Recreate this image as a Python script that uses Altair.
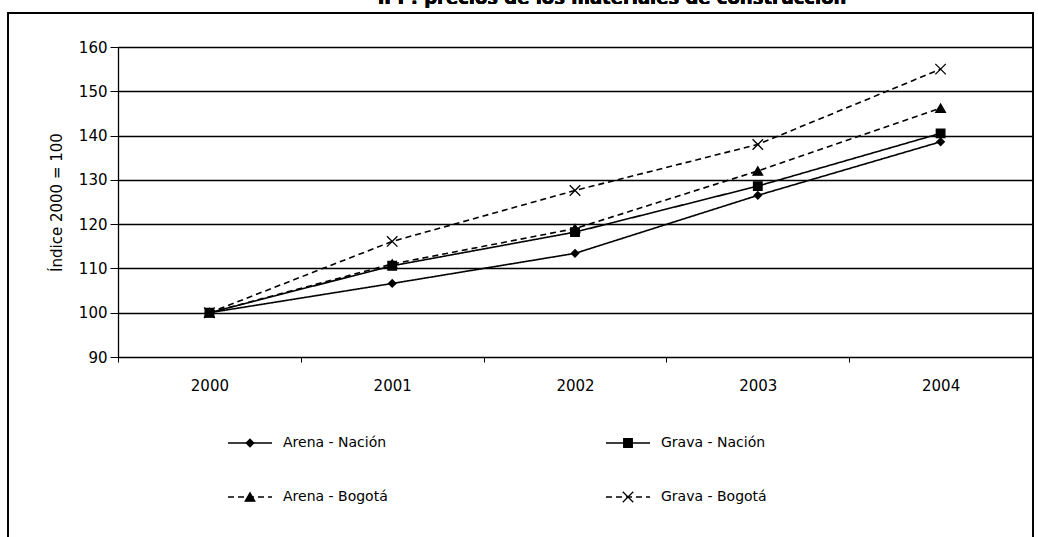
import altair as alt
import pandas as pd

# Index values (2000 = 100) per material and region
years = ["2000", "2001", "2002", "2003", "2004"]
arena_nacion = [100, 106.6, 113.4, 126.5, 138.6]
grava_nacion = [100, 110.6, 118.2, 128.6, 140.5]
arena_bogota = [100, 111.0, 119.0, 132.0, 146.2]
grava_bogota = [100, 116.1, 127.6, 138.0, 155.0]

series_names = ["Arena - Nación", "Grava - Nación", "Arena - Bogotá", "Grava - Bogotá"]
series_values = [arena_nacion, grava_nacion, arena_bogota, grava_bogota]

# Legend grid: column and row index of each entry
legend_cols = [0, 1, 0, 1]
legend_rows = [0, 0, 1, 1]

title_text = "IPP: precios de los materiales de construcción"
y_title = "Índice 2000 = 100"

FONT = "DejaVu Sans"
W, H = 914, 310

rows = []
for name, vals in zip(series_names, series_values):
    for yr, v in zip(years, vals):
        rows.append({"year": yr, "serie": name, "valor": v})
df = pd.DataFrame(rows)

legend_df = pd.DataFrame({"serie": series_names, "col": legend_cols, "row": legend_rows})

dash_scale = alt.Scale(domain=series_names, range=[[1, 0], [1, 0], [6, 4], [6, 4]])
shape_scale = alt.Scale(
    domain=series_names,
    range=["diamond", "square", "triangle-up", "M-1,-1L1,1M1,-1L-1,1"],
)
size_scale = alt.Scale(domain=series_names, range=[55, 110, 100, 130])
width_scale = alt.Scale(domain=series_names, range=[1.6, 1.6, 1.3, 1.1])

x_enc = alt.X(
    "year:N",
    sort=years,
    scale=alt.Scale(paddingInner=0, paddingOuter=0),
    axis=alt.Axis(
        title=None,
        labelAngle=0,
        labelFontSize=15,
        labelFont=FONT,
        labelColor="black",
        labelPadding=16,
        tickSize=5,
        tickColor="black",
        tickBand="extent",
        domain=False,
        grid=False,
    ),
)
y_enc = alt.Y(
    "valor:Q",
    scale=alt.Scale(domain=[90, 160], nice=False, zero=False),
    axis=alt.Axis(
        values=list(range(90, 161, 10)),
        title=y_title,
        titleFont=FONT,
        titleFontSize=15,
        titleFontWeight="normal",
        titleColor="black",
        titlePadding=14,
        labelFont=FONT,
        labelFontSize=15,
        labelColor="black",
        labelPadding=3,
        tickSize=8,
        tickColor="black",
        domainColor="black",
        domainWidth=1.3,
        gridColor="black",
        gridWidth=1.3,
        gridOpacity=1,
    ),
)

base = alt.Chart(df).encode(x=x_enc, y=y_enc)

lines = base.mark_line(color="black").encode(
    strokeDash=alt.StrokeDash("serie:N", scale=dash_scale, legend=None),
    strokeWidth=alt.StrokeWidth("serie:N", scale=width_scale, legend=None),
    detail="serie:N",
)
points = base.mark_point(
    filled=True, color="black", stroke="black", strokeWidth=1.3, opacity=1
).encode(
    shape=alt.Shape("serie:N", scale=shape_scale, legend=None),
    size=alt.Size("serie:N", scale=size_scale, legend=None),
)
plot = alt.layer(lines, points)

# Legend drawn below the plot area, two columns by two rows
lx = alt.X("col:Q", scale=alt.Scale(domain=[0, 1], range=[132, 510]), axis=None)
ly = alt.Y("row:Q", scale=alt.Scale(domain=[0, 1], range=[396, 450]), axis=None)
leg_base = alt.Chart(legend_df).encode(x=lx, y=ly)
leg_lines = leg_base.mark_rule(color="black", xOffset=-22, x2Offset=22).encode(
    x2="col:Q",
    strokeDash=alt.StrokeDash("serie:N", scale=dash_scale, legend=None),
    strokeWidth=alt.StrokeWidth("serie:N", scale=width_scale, legend=None),
)
leg_points = leg_base.mark_point(
    filled=True, color="black", stroke="black", strokeWidth=1.3, opacity=1
).encode(
    shape=alt.Shape("serie:N", scale=shape_scale, legend=None),
    size=alt.Size("serie:N", scale=size_scale, legend=None),
)
leg_text = leg_base.mark_text(
    align="left", baseline="middle", dx=33, fontSize=14, font=FONT, color="black"
).encode(text="serie:N")
legend = alt.layer(leg_lines, leg_points, leg_text)

# Outer frame and the (partly cropped) heading
frame = alt.Chart(legend_df).mark_rect(fill=None, stroke="black", strokeWidth=1.3).encode(
    x=alt.value(-110), x2=alt.value(915), y=alt.value(-34), y2=alt.value(520)
)
heading = alt.Chart(legend_df).mark_text(
    fontSize=18, fontWeight="bold", font=FONT, color="black", baseline="alphabetic"
).encode(x=alt.value(494), y=alt.value(-43), text=alt.value(title_text))

chart = (
    alt.layer(frame, heading, plot, legend)
    .resolve_scale(x="independent", y="independent")
    .properties(
        width=W,
        height=H,
        autosize=alt.AutoSizeParams(type="none"),
        padding={"left": 118, "top": 47, "right": 6, "bottom": 180},
    )
    .configure_view(stroke="black", strokeWidth=1.3)
    .configure(background="white")
)

chart.save("out.html", embed_options={"renderer": "svg", "actions": False})
